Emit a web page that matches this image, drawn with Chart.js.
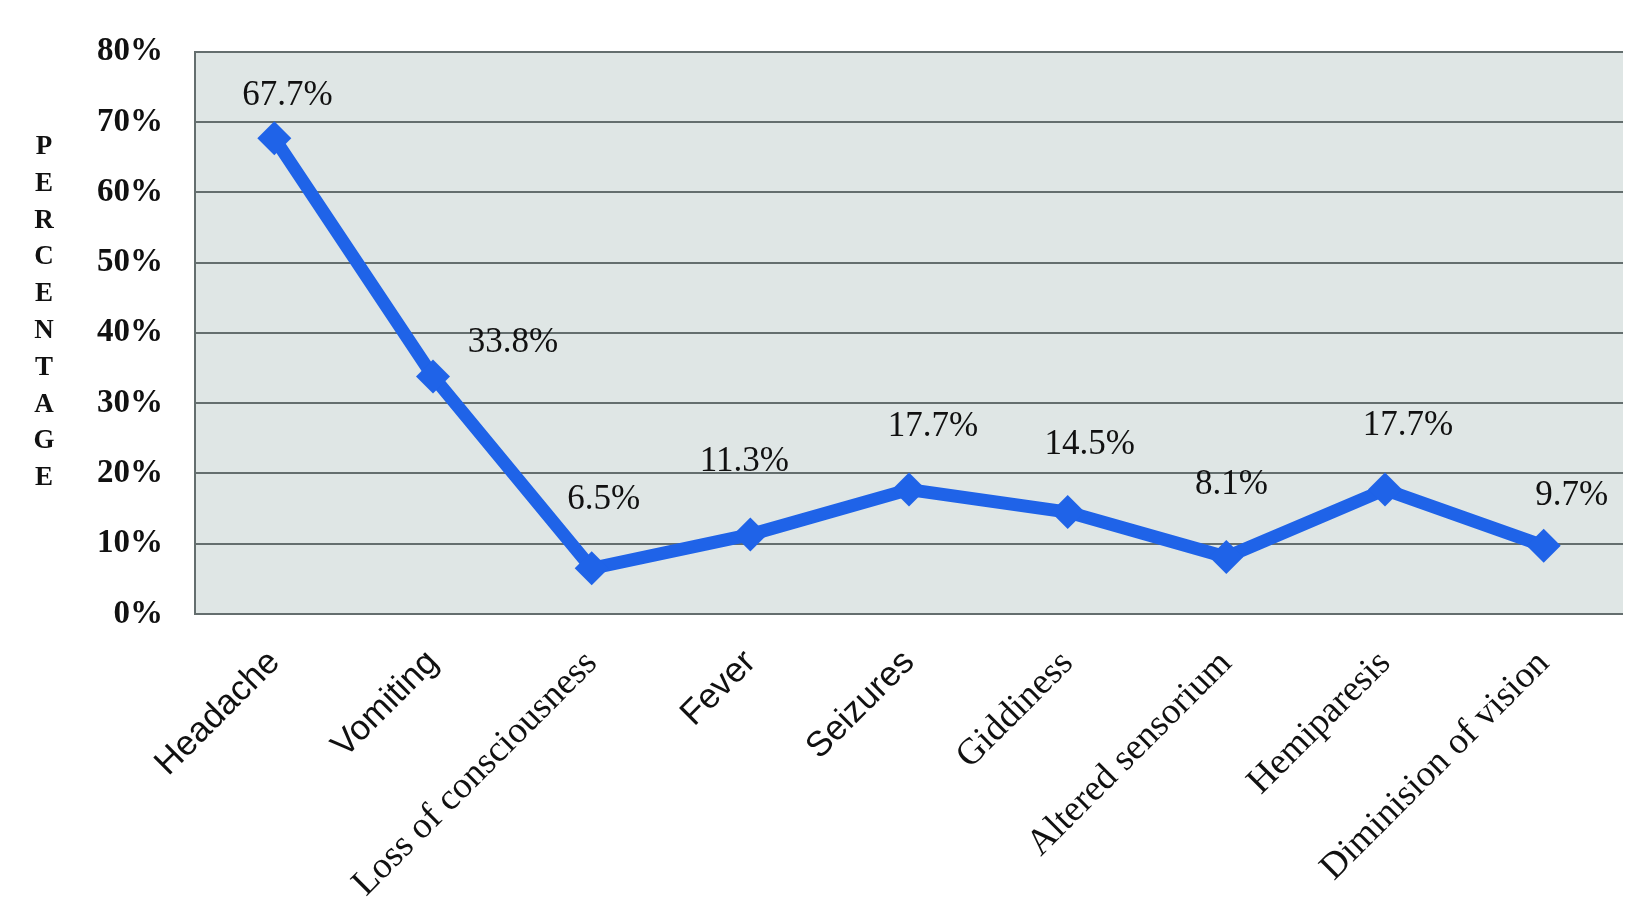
<!DOCTYPE html>
<html lang="en">
<head>
  <meta charset="UTF-8">
  <title>Symptoms Percentage</title>
  <script src="https://cdn.jsdelivr.net/npm/chart.js"></script>
  <style>
    body {
      margin: 0;
      background: #ffffff;
    }
    .chart-box {
      width: 1642px;
      height: 924px;
      position: relative;
    }
  </style>
</head>
<body>
  <div class="chart-box">
    <canvas id="symptomChart"></canvas>
  </div>

  <script>
    // chart data
    const symptoms = ['Headache', 'Vomiting', 'Loss of consciousness', 'Fever', 'Seizures',
      'Giddiness', 'Altered sensorium', 'Hemiparesis', 'Diminision of vision'];
    const percentages = [67.7, 33.8, 6.5, 11.3, 17.7, 14.5, 8.1, 17.7, 9.7];
    const yTicks = [0, 10, 20, 30, 40, 50, 60, 70, 80];
    const axisTitle = 'PERCENTAGE';

    // which category labels are set in a sans face in the original
    const sansLabels = ['Headache', 'Vomiting', 'Fever', 'Seizures'];

    // label placement relative to each point (dx, dy)
    const labelNudge = [[13, -42], [80, -34], [12, -69], [-6, -73], [24, -63],
      [22, -67], [5, -72], [23, -64], [28, -50]];

    const lineBlue = '#1f63e8';
    const gridGrey = '#646e6e';

    // grey plot background
    const plotBackground = {
      id: 'plotBackground',
      beforeDraw(chart) {
        const { ctx, chartArea: a } = chart;
        ctx.save();
        ctx.fillStyle = '#dfe6e5';
        ctx.fillRect(a.left, a.top, a.right - a.left, a.bottom - a.top);
        ctx.restore();
      }
    };

    // value labels above the points
    const valueLabels = {
      id: 'valueLabels',
      afterDatasetsDraw(chart) {
        const { ctx } = chart;
        const meta = chart.getDatasetMeta(0);
        ctx.save();
        ctx.font = '35px "Liberation Serif", serif';
        ctx.fillStyle = '#111111';
        ctx.textAlign = 'center';
        ctx.textBaseline = 'middle';
        meta.data.forEach((pt, i) => {
          const n = labelNudge[i];
          ctx.fillText(percentages[i].toFixed(1) + '%', pt.x + n[0], pt.y + n[1]);
        });
        ctx.restore();
      }
    };

    // stacked vertical axis title
    const stackedTitle = {
      id: 'stackedTitle',
      afterDraw(chart) {
        const { ctx } = chart;
        ctx.save();
        ctx.font = 'bold 27px "Liberation Serif", serif';
        ctx.fillStyle = '#111111';
        ctx.textAlign = 'center';
        ctx.textBaseline = 'middle';
        axisTitle.split('').forEach((ch, i) => {
          ctx.fillText(ch, 44, 147 + i * 36.8);
        });
        ctx.restore();
      }
    };

    const ctx = document.getElementById('symptomChart').getContext('2d');
    new Chart(ctx, {
      type: 'line',
      data: {
        labels: symptoms,
        datasets: [{
          label: 'Percentage',
          data: percentages,
          borderColor: lineBlue,
          backgroundColor: lineBlue,
          borderWidth: 13,
          tension: 0,
          pointStyle: 'rectRot',
          pointRadius: 17,
          pointBorderWidth: 0,
          pointBackgroundColor: lineBlue,
          fill: false
        }]
      },
      options: {
        responsive: true,
        maintainAspectRatio: false,
        animation: false,
        layout: {
          padding: { top: 51, right: 19, left: 0, bottom: 0 }
        },
        plugins: {
          legend: { display: false },
          tooltip: { enabled: false }
        },
        scales: {
          x: {
            offset: true,
            grid: { display: false },
            border: { display: false },
            afterFit(scale) { scale.height = 310; },
            ticks: {
              autoSkip: false,
              maxRotation: 45,
              minRotation: 45,
              padding: 20,
              color: '#111111',
              font(c) {
                const name = symptoms[c.index];
                return sansLabels.includes(name)
                  ? { family: '"Liberation Sans", Arial, sans-serif', size: 35 }
                  : { family: '"Liberation Serif", serif', size: 37 };
              }
            }
          },
          y: {
            min: yTicks[0],
            max: yTicks[yTicks.length - 1],
            afterFit(scale) { scale.width = 195; },
            afterBuildTicks(scale) {
              scale.ticks = yTicks.map(v => ({ value: v }));
            },
            grid: {
              color: gridGrey,
              lineWidth: 2,
              drawTicks: false
            },
            border: { display: true, color: gridGrey, width: 2 },
            ticks: {
              padding: 32,
              color: '#111111',
              font: { family: '"Liberation Serif", serif', size: 33, weight: 'bold' },
              callback: v => v + '%'
            }
          }
        }
      },
      plugins: [plotBackground, valueLabels, stackedTitle]
    });
  </script>
</body>
</html>
